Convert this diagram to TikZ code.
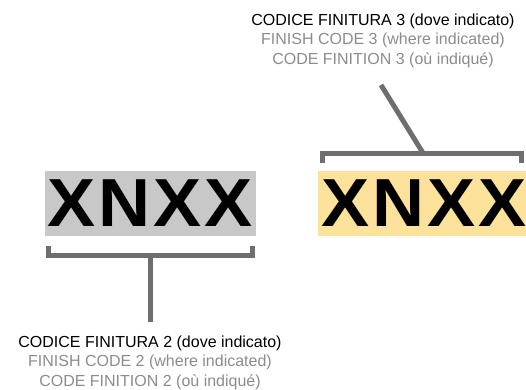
\documentclass[tikz,border=0pt]{standalone}
\usepackage{fontspec}
\setmainfont{Liberation Sans}
\usetikzlibrary{positioning}

\definecolor{codegray}{HTML}{C8C8C8}
\definecolor{codeyellow}{HTML}{FCE29B}
\definecolor{bracketgray}{HTML}{6E6E6E}
\definecolor{labelgray}{HTML}{8C8C8C}

% codice a lettere larghe
\newcommand{\codeword}{\scalebox{1.06}[1]{X\kern3pt N\kern3pt X\kern3pt X}}

\begin{document}
\begin{tikzpicture}[x=1pt, y=-1pt,
    bracket/.style={line width=5pt, draw=bracketgray},
    codebox/.style={inner sep=0pt, minimum width=211pt, minimum height=65pt,
        font=\fontsize{68}{68}\bfseries\selectfont},
    codelabel/.style={align=center, inner sep=0pt, font=\fontsize{16}{19.5}\selectfont}]

    \useasboundingbox (0,0) rectangle (526,389);

    % ================= sinistra: codice finitura 2 =================
    \node[codebox, fill=codegray] (code2) at (150,203.5) {\codeword};

    % parentesi sotto il codice
    \coordinate (b2L) at (48,246);
    \coordinate (b2R) at (252,246);
    \coordinate (b2M) at (150,255);
    \draw[bracket] (b2L) -- (b2L |- b2M) -- (b2R |- b2M) -- (b2R);

    % etichetta (base = ultima riga)
    \node[codelabel, anchor=base] (lab2) at (150,386)
        {CODICE FINITURA 2 (dove indicato)\\
        \textcolor{labelgray}{FINISH CODE 2 (where indicated)}\\
        \textcolor{labelgray}{CODE FINITION 2 (où indiqué)}};
    \draw[bracket] (b2M) -- (b2M |- 0,322);

    % ================= destra: codice finitura 3 =================
    \node[codebox, fill=codeyellow, minimum width=212pt] (code3) at (424,203.5) {\codeword};

    % parentesi sopra il codice
    \coordinate (b3L) at (322,163);
    \coordinate (b3R) at (521,163);
    \coordinate (b3M) at (423,153);
    \draw[bracket] (b3L) -- (b3L |- b3M) -- (b3R |- b3M) -- (b3R);

    % etichetta
    \node[codelabel, anchor=base] (lab3) at (383,64)
        {CODICE FINITURA 3 (dove indicato)\\
        \textcolor{labelgray}{FINISH CODE 3 (where indicated)}\\
        \textcolor{labelgray}{CODE FINITION 3 (où indiqué)}};
    \coordinate (b3T) at (381,85);
    \draw[bracket] (b3M) -- (b3T);

\end{tikzpicture}
\end{document}
